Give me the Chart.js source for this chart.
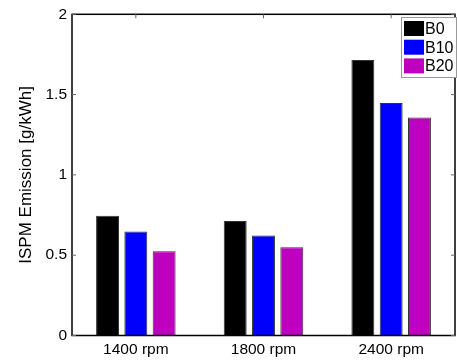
<!DOCTYPE html>
<html>
<head>
<meta charset="utf-8">
<script src="https://cdn.jsdelivr.net/npm/chart.js@4/dist/chart.umd.min.js"></script>
<style>
  html, body { margin: 0; padding: 0; background: #fff; }
  #wrap { width: 457px; height: 360px; }
</style>
</head>
<body>
<div id="wrap"><canvas id="chart" width="457" height="360"></canvas></div>
<script>
// chart data
const categories = ['1400 rpm', '1800 rpm', '2400 rpm'];
const seriesNames = ['B0', 'B10', 'B20'];
const b0Values = [0.746, 0.713, 1.716];
const b10Values = [0.647, 0.622, 1.447];
const b20Values = [0.525, 0.55, 1.357];
const yTicks = [0, 0.5, 1, 1.5, 2];

const colors = ['#000000', '#0000ff', '#bf00bf'];
const FONT = 'Liberation Sans, Arial, sans-serif';

// box outline, inward ticks and in-plot legend (MATLAB look)
const boxPlugin = {
  id: 'boxPlugin',
  afterDraw(chart) {
    const { ctx, chartArea: a, scales } = chart;
    ctx.save();
    ctx.strokeStyle = '#000';
    ctx.lineWidth = 1.5;
    ctx.strokeRect(a.left, a.top, a.right - a.left, a.bottom - a.top);

    ctx.lineWidth = 1;
    ctx.strokeStyle = '#666';
    yTicks.forEach(v => {
      const y = scales.y.getPixelForValue(v);
      ctx.beginPath();
      ctx.moveTo(a.left, y); ctx.lineTo(a.left + 4, y);
      ctx.moveTo(a.right, y); ctx.lineTo(a.right - 4, y);
      ctx.stroke();
    });
    categories.forEach((c, i) => {
      const x = scales.x.getPixelForValue(i);
      ctx.beginPath();
      ctx.moveTo(x, a.top); ctx.lineTo(x, a.top + 4);
      ctx.stroke();
    });

    // legend
    const lx = 401, ly = 17, lw = 55, lh = 60;
    ctx.fillStyle = '#fff';
    ctx.fillRect(lx, ly, lw, lh);
    ctx.strokeStyle = '#999';
    ctx.lineWidth = 1;
    ctx.strokeRect(lx + 0.5, ly + 0.5, lw, lh);
    ctx.font = '16px ' + FONT;
    ctx.textBaseline = 'middle';
    ctx.textAlign = 'left';
    chart.data.datasets.forEach((ds, i) => {
      const cy = ly + 11.5 + i * 18.7;
      ctx.fillStyle = ds.backgroundColor;
      ctx.fillRect(lx + 3, cy - 7.5, 20, 15);
      ctx.fillStyle = '#000';
      ctx.fillText(ds.label, lx + 24, cy + 1);
    });
    ctx.restore();
  }
};

const values = [b0Values, b10Values, b20Values];

new Chart(document.getElementById('chart'), {
  type: 'bar',
  data: {
    labels: categories,
    datasets: seriesNames.map((name, i) => ({
      label: name,
      data: values[i],
      backgroundColor: colors[i],
      borderColor: '#333',
      borderWidth: 1,
      categoryPercentage: 0.665,
      barPercentage: 0.81
    }))
  },
  options: {
    responsive: false,
    animation: false,
    layout: { padding: { top: 14, right: 2, left: 0, bottom: 0 } },
    plugins: {
      legend: { display: false },
      tooltip: { enabled: false }
    },
    scales: {
      x: {
        grid: { display: false, drawTicks: false },
        border: { display: false },
        ticks: {
          color: '#000',
          font: { size: 15.5, family: FONT },
          padding: 5
        },
        afterFit: s => { s.height = 24.5; }
      },
      y: {
        min: 0,
        max: 2,
        afterBuildTicks: s => { s.ticks = yTicks.map(v => ({ value: v })); },
        grid: { display: false, drawTicks: false },
        border: { display: false },
        ticks: {
          color: '#000',
          font: { size: 15.5, family: FONT },
          padding: 5,
          callback: v => String(v)
        },
        title: {
          display: true,
          text: 'ISPM Emission [g/kWh]',
          color: '#000',
          font: { size: 17, family: FONT },
          padding: { top: 16, bottom: 2 }
        },
        afterFit: s => { s.width = 72; }
      }
    }
  },
  plugins: [boxPlugin]
});
</script>
</body>
</html>
